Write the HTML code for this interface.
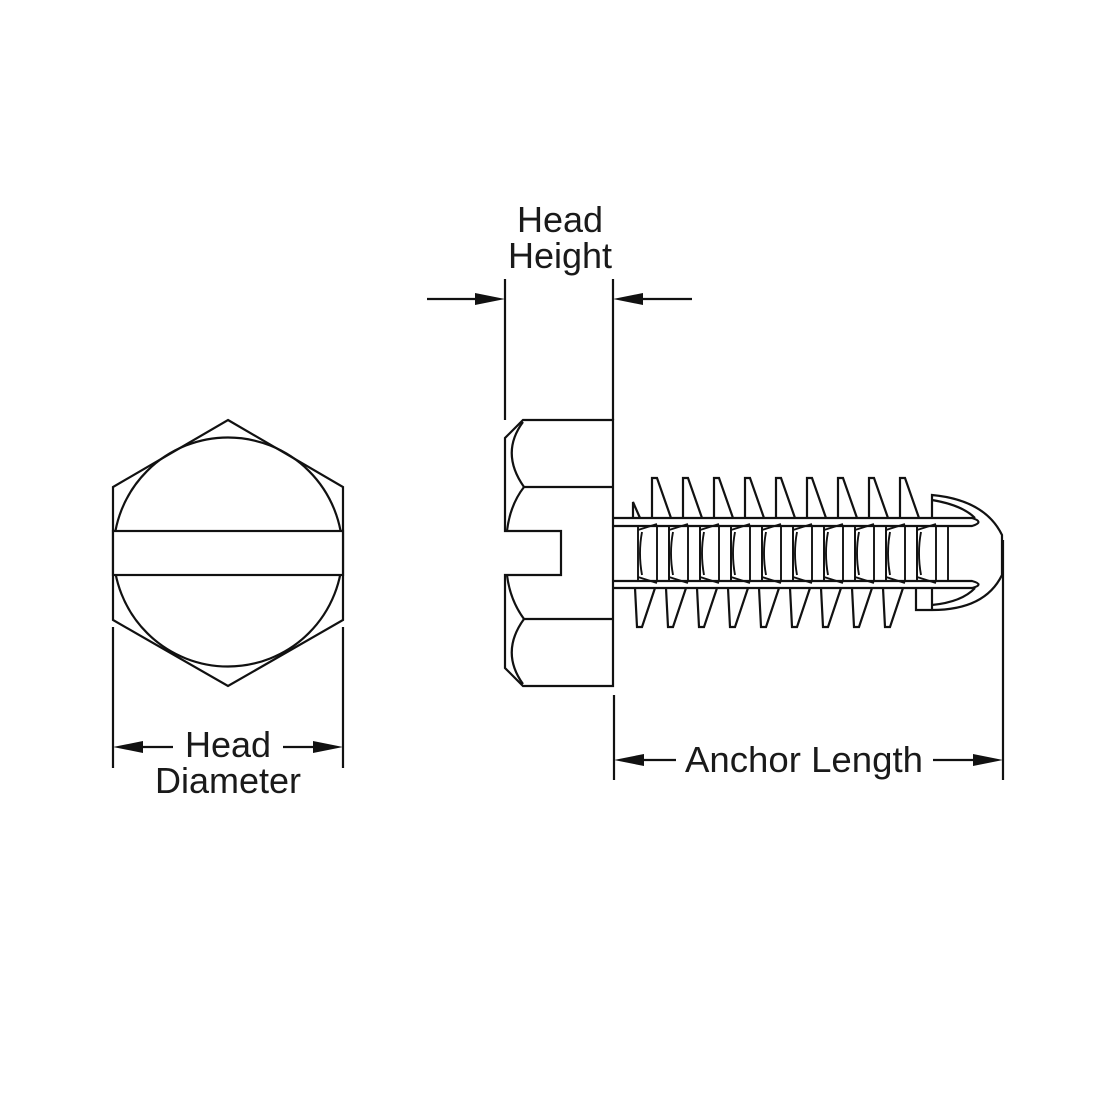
<!DOCTYPE html>
<html><head><meta charset="utf-8"><style>html,body{margin:0;padding:0;background:#fff}svg{display:block}text{font-family:"Liberation Sans",Arial,sans-serif;fill:#1a1a1a}</style></head><body>
<svg width="1100" height="1100" viewBox="0 0 1100 1100" xmlns="http://www.w3.org/2000/svg">
<g fill="none" stroke="#111" stroke-width="2.2">
<polygon points="228,420 343,487 343,620 228,686 113,620 113,487"/>
<circle cx="228" cy="552" r="114.5"/>
<rect x="113" y="531" width="230" height="44" fill="#fff"/>
<line x1="113" y1="627" x2="113" y2="768"/>
<line x1="343" y1="627" x2="343" y2="768"/>
<path d="M523,420 H613 V686 H523 L505,668 V575 H561 V531 H505 V438 Z"/>
<line x1="524" y1="487" x2="613" y2="487"/>
<line x1="524" y1="619" x2="613" y2="619"/>
<path d="M523,422 Q500,453 524,487"/>
<path d="M524,487 Q510,505 507,531"/>
<path d="M507,575 Q510,600 524,619"/>
<path d="M524,619 Q500,652 523,684"/>
<line x1="505" y1="279" x2="505" y2="420"/>
<line x1="613" y1="279" x2="613" y2="420"/>
<path d="M613,518 H972 Q985,522 972,526 H613"/>
<path d="M613,581 H972 Q985,584.5 972,588 H613"/>
<path d="M633,518 V502 L640,518"/>
<g>
<path d="M652,518 V478 H657 L671,518"/>
<path d="M683,518 V478 H688 L702,518"/>
<path d="M714,518 V478 H719 L733,518"/>
<path d="M745,518 V478 H750 L764,518"/>
<path d="M776,518 V478 H781 L795,518"/>
<path d="M807,518 V478 H812 L826,518"/>
<path d="M838,518 V478 H843 L857,518"/>
<path d="M869,518 V478 H874 L888,518"/>
<path d="M900,518 V478 H905 L919,518"/>
</g>
<g>
<path d="M655,588 L642,627 H637 L635,588"/>
<path d="M686,588 L673,627 H668 L666,588"/>
<path d="M717,588 L704,627 H699 L697,588"/>
<path d="M748,588 L735,627 H730 L728,588"/>
<path d="M779,588 L766,627 H761 L759,588"/>
<path d="M810,588 L797,627 H792 L790,588"/>
<path d="M841,588 L828,627 H823 L821,588"/>
<path d="M872,588 L859,627 H854 L852,588"/>
<path d="M903,588 L890,627 H885 L883,588"/>
</g>
<g stroke-width="1.9">
<path d="M638,526 V581 M657,526 V581 M669,526 V581 M638,530 L657,524 M638,577 L657,583 M642,532 Q638,553 642,575"/>
<path d="M669,526 V581 M688,526 V581 M700,526 V581 M669,530 L688,524 M669,577 L688,583 M673,532 Q669,553 673,575"/>
<path d="M700,526 V581 M719,526 V581 M731,526 V581 M700,530 L719,524 M700,577 L719,583 M704,532 Q700,553 704,575"/>
<path d="M731,526 V581 M750,526 V581 M762,526 V581 M731,530 L750,524 M731,577 L750,583 M735,532 Q731,553 735,575"/>
<path d="M762,526 V581 M781,526 V581 M793,526 V581 M762,530 L781,524 M762,577 L781,583 M766,532 Q762,553 766,575"/>
<path d="M793,526 V581 M812,526 V581 M824,526 V581 M793,530 L812,524 M793,577 L812,583 M797,532 Q793,553 797,575"/>
<path d="M824,526 V581 M843,526 V581 M855,526 V581 M824,530 L843,524 M824,577 L843,583 M828,532 Q824,553 828,575"/>
<path d="M855,526 V581 M874,526 V581 M886,526 V581 M855,530 L874,524 M855,577 L874,583 M859,532 Q855,553 859,575"/>
<path d="M886,526 V581 M905,526 V581 M917,526 V581 M886,530 L905,524 M886,577 L905,583 M890,532 Q886,553 890,575"/>
<path d="M917,526 V581 M936,526 V581 M948,526 V581 M917,530 L936,524 M917,577 L936,583 M921,532 Q917,553 921,575"/>
</g>
<path d="M932,518 V495 Q985,500 1002,535 V575 Q985,610 932,610 H916 V588"/>
<path d="M932,500 Q962,505 975,518"/>
<path d="M932,605 Q962,602 975,588"/>
<line x1="932" y1="588" x2="932" y2="610"/>
<line x1="614" y1="695" x2="614" y2="780"/>
<line x1="1003" y1="540" x2="1003" y2="780"/>
<line x1="427" y1="299" x2="480" y2="299"/>
<line x1="638" y1="299" x2="692" y2="299"/>
<line x1="135" y1="747" x2="173" y2="747"/>
<line x1="283" y1="747" x2="322" y2="747"/>
<line x1="640" y1="760" x2="676" y2="760"/>
<line x1="933" y1="760" x2="980" y2="760"/>
</g>
<g fill="#111">
<polygon points="505,299 475,293 475,305"/>
<polygon points="613,299 643,293 643,305"/>
<polygon points="113,747 143,741 143,753"/>
<polygon points="343,747 313,741 313,753"/>
<polygon points="614,760 644,754 644,766"/>
<polygon points="1003,760 973,754 973,766"/>
</g>
<text x="560" y="232" font-size="36" text-anchor="middle">Head</text>
<text x="560" y="268" font-size="36" text-anchor="middle">Height</text>
<text x="228" y="757" font-size="36" text-anchor="middle">Head</text>
<text x="228" y="793" font-size="36" text-anchor="middle">Diameter</text>
<text x="804" y="772" font-size="36" text-anchor="middle" textLength="238" lengthAdjust="spacingAndGlyphs">Anchor Length</text>
</svg>
</body></html>
